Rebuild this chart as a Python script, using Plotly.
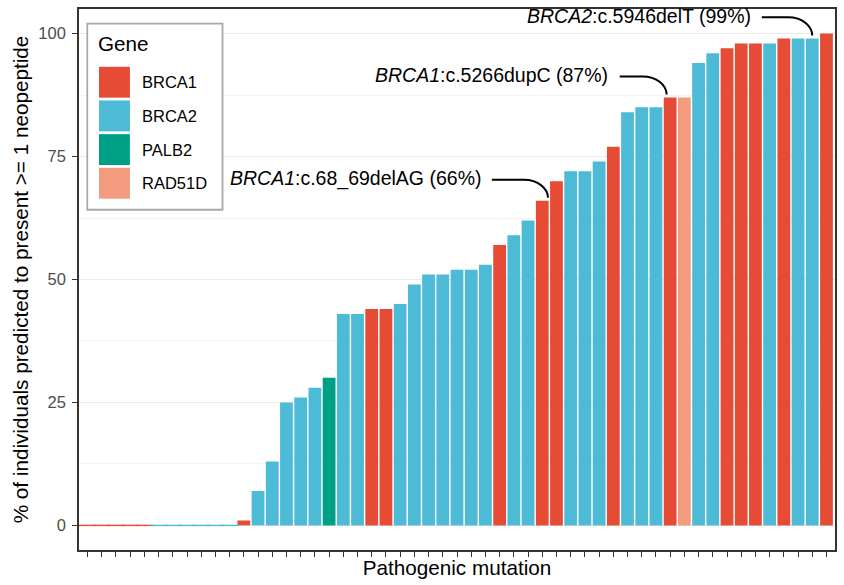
import plotly.graph_objects as go

# ---- data -------------------------------------------------------------
mutation_idx = list(range(1, 54))

genes = (["BRCA1"] * 5 + ["BRCA2"] * 6 + ["BRCA1"] + ["BRCA2"] * 5 + ["PALB2"]
         + ["BRCA2"] * 2 + ["BRCA1"] * 2 + ["BRCA2"] * 7 + ["BRCA1"]
         + ["BRCA2"] * 2 + ["BRCA1"] * 2 + ["BRCA2"] * 3 + ["BRCA1"]
         + ["BRCA2"] * 3 + ["BRCA1"] + ["RAD51D"] + ["BRCA2"] * 2
         + ["BRCA1"] * 3 + ["BRCA2"] + ["BRCA1"] + ["BRCA2"] * 2 + ["BRCA1"])

pct_neopeptide = [0, 0, 0, 0, 0, 0, 0, 0, 0, 0, 0,
                  1, 7, 13, 25, 26, 28, 30,
                  43, 43, 44, 44, 45, 49, 51, 51, 52, 52, 53,
                  57, 59, 62, 66, 70, 72, 72, 74, 77,
                  84, 85, 85, 87, 87,
                  94, 96, 97, 98, 98, 98, 99, 99, 99, 100]

gene_levels = ["BRCA1", "BRCA2", "PALB2", "RAD51D"]
gene_colors = {"BRCA1": "#E64B35", "BRCA2": "#4DBBD5",
               "PALB2": "#00A087", "RAD51D": "#F39B7F"}

# highlighted mutations: (position on x, variant name)
highlight_idx = [33, 42, 52]
highlight_variant = ["c.68_69delAG", "c.5266dupC", "c.5946delT"]

# ---- style ------------------------------------------------------------
FONT = "Liberation Sans, Arial, Helvetica, sans-serif"
W, H = 844, 585
ML, MR, MT, MB = 79, 8, 7, 35
PW, PH = W - ML - MR, H - MT - MB

def pxx(px):
    return (px - ML) / PW

def pxy(py):
    return (H - MB - py) / PH

# per-label nudge of the connector end (x units)
end_nudge = {33: 0.4, 42: -0.25, 52: 0.0}

fig = go.Figure()

bar_colors = [gene_colors[g] for g in genes]
fig.add_trace(go.Bar(
    x=mutation_idx, y=pct_neopeptide, width=0.9,
    marker=dict(color=bar_colors, line=dict(width=0)),
    showlegend=False, hoverinfo="x+y"))

# zero-height bars show up as a thin coloured rule at 0
zx = [x for x, v in zip(mutation_idx, pct_neopeptide) if v == 0]
zc = [gene_colors[g] for g, v in zip(genes, pct_neopeptide) if v == 0]
fig.add_trace(go.Scatter(
    x=zx, y=[0] * len(zx), mode="markers",
    marker=dict(symbol="line-ew", size=12.8,
                line=dict(color=zc, width=1.4)),
    showlegend=False, hoverinfo="skip"))

shapes = []
annotations = []

# labelled mutations with curved connectors
for k, variant in zip(highlight_idx, highlight_variant):
    v = pct_neopeptide[k - 1]
    g = genes[k - 1]
    ys = v + 4.3
    xs = k - 3.55
    xe = k + end_nudge[k]
    ye = v + 0.6
    xm = xe - 1.7
    path = (f"M {xs},{ys} L {xm},{ys} "
            f"C {xm + 0.6 * 1.7},{ys} {xe},{ye + 0.5 * (ys - ye)} {xe},{ye}")
    shapes.append(dict(type="path", path=path, xref="x", yref="y",
                       line=dict(color="black", width=2)))
    annotations.append(dict(
        x=k - 4.2, y=ys + 0.3, xref="x", yref="y",
        text=f"<i>{g}</i>:{variant} ({v}%)", showarrow=False,
        xanchor="right", yanchor="middle",
        font=dict(family=FONT, size=19.5, color="black")))

# legend box
shapes.append(dict(type="rect", xref="paper", yref="paper",
                   x0=pxx(87.3), x1=pxx(222.7), y0=pxy(208.5), y1=pxy(21.7),
                   line=dict(color="#A8A8A8", width=1.8), fillcolor="white",
                   layer="above"))
annotations.append(dict(x=pxx(96.5), y=pxy(42), xref="paper", yref="paper",
                        text="Gene", showarrow=False, xanchor="left",
                        yanchor="middle",
                        font=dict(family=FONT, size=20.7, color="black")))
for i, g in enumerate(gene_levels):
    top = 65 + i * 33.8
    shapes.append(dict(type="rect", xref="paper", yref="paper",
                       x0=pxx(99), x1=pxx(130), y0=pxy(top + 31), y1=pxy(top),
                       line=dict(width=0), fillcolor=gene_colors[g],
                       layer="above"))
    annotations.append(dict(x=pxx(140.5), y=pxy(top + 15.5),
                            xref="paper", yref="paper", text=g,
                            showarrow=False, xanchor="left", yanchor="middle",
                            font=dict(family=FONT, size=16.5, color="black")))

fig.update_layout(
    width=W, height=H,
    margin=dict(l=ML, r=MR, t=MT, b=MB, pad=0),
    plot_bgcolor="white", paper_bgcolor="white",
    bargap=0.1,
    shapes=shapes, annotations=annotations,
    font=dict(family=FONT, color="black"),
)

fig.update_xaxes(
    range=[0.4, 53.6], tickmode="array", tickvals=mutation_idx,
    ticktext=[""] * len(mutation_idx),
    ticks="outside", ticklen=5, tickwidth=1.1, tickcolor="#333333",
    showgrid=False, zeroline=False,
    showline=True, mirror=True, linecolor="#333333", linewidth=1.6,
    title=dict(text="Pathogenic mutation", standoff=2,
               font=dict(family=FONT, size=20.7, color="black")),
)

fig.update_yaxes(
    range=[-5, 105], tickmode="array", tickvals=[0, 25, 50, 75, 100],
    ticks="outside", ticklen=5, tickwidth=1.1, tickcolor="#333333",
    ticklabelstandoff=3,
    tickfont=dict(family=FONT, size=16.5, color="#4D4D4D"),
    showgrid=True, gridcolor="#EBEBEB", gridwidth=1.1,
    minor=dict(tickmode="array", tickvals=[12.5, 37.5, 62.5, 87.5],
               showgrid=True, gridcolor="#F2F2F2", gridwidth=0.6, ticks=""),
    zeroline=False,
    showline=True, mirror=True, linecolor="#333333", linewidth=1.6,
    title=dict(text="% of individuals predicted to present >= 1 neopeptide",
               standoff=4, font=dict(family=FONT, size=20.7, color="black")),
)

fig.write_html("out.html")
